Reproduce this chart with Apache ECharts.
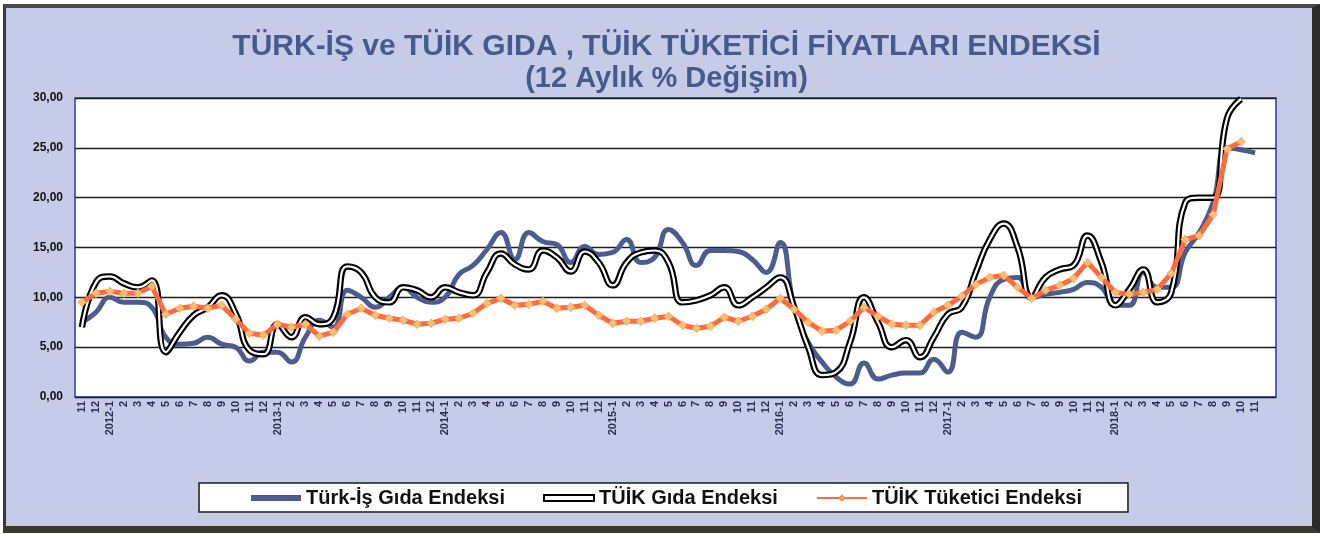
<!DOCTYPE html>
<html>
<head>
<meta charset="utf-8">
<title>TÜRK-İŞ ve TÜİK GIDA</title>
<script src="https://cdn.jsdelivr.net/npm/echarts@6.0.0/dist/echarts.min.js"></script>
<style>
	html, body { margin: 0; padding: 0; background: #ffffff; }
	#frame {
		position: absolute; left: 3px; top: 4px; width: 1306px; height: 518px;
		background: #c6cbe8;
		border-left: 3px solid #3a3a3a; border-top: 4px solid #4a4a4a;
		border-right: 8px solid #2a2a2a; border-bottom: 7px solid #3a3a2a;
	}
	#myChart { position: absolute; left: 0; top: 0; width: 1333px; height: 535px; }
</style>
</head>
<body>
<div id="frame"></div>
<div id="myChart"></div>
<script>
	// x ekseni etiketleri (2011-11 .. 2018-11, sonda bos bir aralik)
	var months = ['11', '12',
		'2012-1', '2', '3', '4', '5', '6', '7', '8', '9', '10', '11', '12',
		'2013-1', '2', '3', '4', '5', '6', '7', '8', '9', '10', '11', '12',
		'2014-1', '2', '3', '4', '5', '6', '7', '8', '9', '10', '11', '12',
		'2015-1', '2', '3', '4', '5', '6', '7', '8', '9', '10', '11', '12',
		'2016-1', '2', '3', '4', '5', '6', '7', '8', '9', '10', '11', '12',
		'2017-1', '2', '3', '4', '5', '6', '7', '8', '9', '10', '11', '12',
		'2018-1', '2', '3', '4', '5', '6', '7', '8', '9', '10', '11', ''];

	var yTicks = [0, 5, 10, 15, 20, 25, 30];

	// Türk-İş Gıda Endeksi
	var turkisGida = [7.5, 8.5, 10.0, 9.5, 9.5, 9.0, 6.0, 5.3, 5.4, 6.0, 5.3, 5.0, 3.6, 4.5,
		4.5, 3.5, 6.0, 7.7, 7.0, 10.7, 10.0, 9.0, 10.0, 11.0, 10.0, 9.5,
		10.0, 12.3, 13.2, 14.8, 16.5, 13.8, 16.5, 15.6, 15.3, 13.5, 15.1, 14.3,
		14.5, 15.8, 13.5, 14.0, 16.8, 15.5, 13.2, 14.7, 14.7, 14.6, 13.8, 12.5,
		15.5, 9.0, 5.5, 3.5, 2.0, 1.3, 3.4, 1.8, 2.2, 2.4, 2.4, 3.8,
		2.5, 6.5, 6.0, 10.0, 11.8, 12.0, 10.0, 10.3, 10.5, 10.8, 11.5, 11.0,
		9.2, 9.2, 12.5, 11.0, 11.0, 14.5, 16.5, 19.5, 25.0, 24.8, 24.5];

	// TÜİK Gıda Endeksi
	var tuikGida = [7.0, 11.5, 12.1, 11.4, 11.0, 11.7, 4.5, 6.5, 8.2, 9.0, 10.2, 8.4, 4.7, 4.3,
		7.3, 6.0, 8.0, 7.3, 8.0, 13.1, 12.5, 10.0, 9.5, 11.0, 10.7, 10.0,
		11.0, 10.5, 10.2, 12.5, 14.4, 13.3, 12.8, 14.7, 14.0, 12.6, 14.6, 13.5,
		11.2, 13.5, 14.5, 14.7, 13.5, 9.5, 9.7, 10.2, 11.0, 9.2, 10.0, 11.0,
		12.0, 9.0, 5.0, 2.2, 2.5, 5.5, 10.0, 7.5, 5.0, 5.7, 4.0, 6.0,
		8.3, 9.0, 12.5, 15.8, 17.4, 15.0, 10.0, 12.0, 12.8, 13.2, 16.2, 13.5,
		9.2, 10.8, 12.8, 9.5, 10.5, 19.5, 20.0, 20.0, 28.0, 29.9];

	// TÜİK Tüketici Endeksi
	var tuikTuketici = [9.5, 10.4, 10.6, 10.4, 10.4, 11.1, 8.3, 8.9, 9.1, 8.9, 9.2, 7.8, 6.4, 6.2,
		7.3, 7.0, 7.3, 6.1, 6.5, 8.3, 8.9, 8.2, 7.9, 7.7, 7.3, 7.4,
		7.8, 7.9, 8.4, 9.4, 9.9, 9.2, 9.3, 9.6, 8.9, 9.0, 9.2, 8.2,
		7.4, 7.6, 7.6, 7.9, 8.1, 7.2, 6.9, 7.1, 8.0, 7.6, 8.1, 8.8,
		9.9, 8.8, 7.5, 6.6, 6.7, 7.6, 9.0, 8.1, 7.3, 7.2, 7.2, 8.5,
		9.2, 10.1, 11.3, 12.0, 12.2, 11.0, 9.9, 10.7, 11.2, 11.9, 13.5, 12.0,
		10.5, 10.3, 10.5, 10.8, 12.4, 15.8, 16.2, 18.3, 24.9, 25.6];

	var fontName = '"Liberation Sans", Arial, sans-serif';

	var option = {
		animation: false,
		title: [{
			text: 'TÜRK-İŞ ve TÜİK GIDA , TÜİK TÜKETİCİ FİYATLARI ENDEKSİ',
			left: 'center',
			top: 27,
			textStyle: { fontFamily: fontName, fontSize: 30, fontWeight: 'bold', color: '#485a8b' }
		}, {
			text: '(12 Aylık % Değişim)',
			left: 'center',
			top: 59,
			textStyle: { fontFamily: fontName, fontSize: 29, fontWeight: 'bold', color: '#485a8b' }
		}],
		legend: {
			bottom: 23,
			left: 'center',
			backgroundColor: '#ffffff',
			borderColor: '#1a1a1a',
			borderWidth: 1.5,
			padding: [5, 46, 4, 52],
			itemGap: 38,
			itemWidth: 50,
			itemHeight: 6,
			textStyle: { fontFamily: fontName, fontSize: 20, fontWeight: 'bold', color: '#111' },
			data: [
				{ name: 'Türk-İş Gıda Endeksi', icon: 'rect' },
				{ name: 'TÜİK Gıda Endeksi', icon: 'rect', itemStyle: { color: '#ffffff', borderColor: '#000000', borderWidth: 2 } },
				{ name: 'TÜİK Tüketici Endeksi' }
			]
		},
		grid: {
			left: 75,
			right: 57,
			top: 98,
			bottom: 138,
			show: true,
			backgroundColor: '#ffffff',
			borderColor: '#2e3b94',
			borderWidth: 1.5
		},
		xAxis: {
			type: 'category',
			boundaryGap: true,
			data: months,
			axisLine: { show: false },
			axisTick: { show: false },
			axisLabel: {
				interval: 0,
				rotate: 90,
				margin: 4,
				fontFamily: fontName,
				fontSize: 11,
				fontWeight: 'bold',
				color: '#2a2f55'
			}
		},
		yAxis: {
			type: 'value',
			min: yTicks[0],
			max: yTicks[yTicks.length - 1],
			interval: 5,
			axisLine: { show: false },
			axisTick: { show: false },
			axisLabel: {
				margin: 12,
				fontFamily: fontName,
				fontSize: 12,
				fontWeight: 'bold',
				color: '#111',
				formatter: function (v) { return v.toFixed(2).replace('.', ','); }
			},
			splitLine: { lineStyle: { color: '#1e1e1e', width: 1.3 } }
		},
		series: [{
			name: 'Türk-İş Gıda Endeksi',
			type: 'line',
			data: turkisGida,
			smooth: 0.5,
			symbol: 'none',
			lineStyle: { color: '#4c5c8f', width: 5 },
			itemStyle: { color: '#4c5c8f' },
			z: 2
		}, {
			name: 'TÜİK Gıda Endeksi',
			type: 'line',
			data: tuikGida,
			smooth: 0.5,
			symbol: 'none',
			lineStyle: { color: '#000000', width: 6.5 },
			itemStyle: { color: '#000000' },
			z: 3
		}, {
			name: 'tuikGidaInner',
			type: 'line',
			data: tuikGida,
			smooth: 0.5,
			symbol: 'none',
			silent: true,
			lineStyle: { color: '#ffffff', width: 2.2 },
			z: 4
		}, {
			name: 'TÜİK Tüketici Endeksi',
			type: 'line',
			data: tuikTuketici,
			smooth: false,
			symbol: 'diamond',
			symbolSize: 9,
			lineStyle: { color: '#ff6b3d', width: 5 },
			itemStyle: { color: '#f6c070', borderColor: '#ff8a50', borderWidth: 0.5 },
			z: 5
		}]
	};

	var myChart = echarts.init(document.getElementById('myChart'));
	myChart.setOption(option);
</script>
</body>
</html>
